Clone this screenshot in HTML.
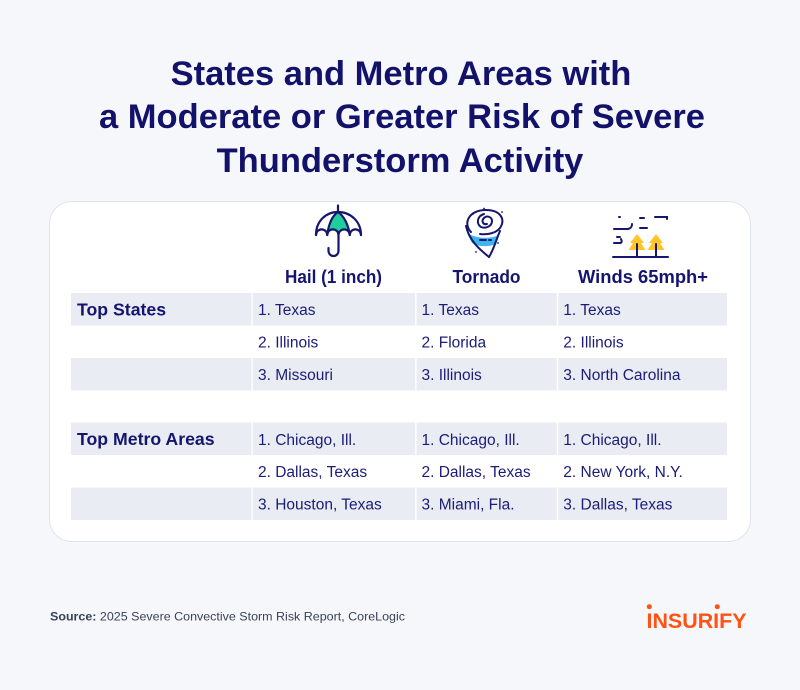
<!DOCTYPE html>
<html>
<head>
<meta charset="utf-8">
<style>
  html,body{margin:0;padding:0;background:#f6f7fb;}
  body{width:800px;height:690px;overflow:hidden;}
  svg{display:block;}
  text{font-family:"Liberation Sans",Arial,sans-serif;}
</style>
</head>
<body>
<svg width="800" height="690" viewBox="0 0 800 690" xmlns="http://www.w3.org/2000/svg">
  <rect x="0" y="0" width="800" height="690" fill="#f6f7fb"/>

  <!-- Title -->
  <g fill="#12126b" font-weight="bold" font-size="34.5" text-anchor="middle">
    <text x="401" y="85">States and Metro Areas with</text>
    <text x="402" y="128">a Moderate or Greater Risk of Severe</text>
    <text x="400" y="172">Thunderstorm Activity</text>
  </g>

  <!-- Card -->
  <rect x="49.5" y="201.5" width="701" height="340" rx="22" ry="22" fill="#ffffff" stroke="#dfe4ee" stroke-width="1"/>

  <!-- Gray rows -->
  <g fill="#e9ecf2">
    <rect x="71" y="293" width="180.5" height="32.5"/>
    <rect x="252.8" y="293" width="162.4" height="32.5"/>
    <rect x="416.6" y="293" width="140.2" height="32.5"/>
    <rect x="558.2" y="293" width="168.8" height="32.5"/>

    <rect x="71" y="358" width="180.5" height="32.5"/>
    <rect x="252.8" y="358" width="162.4" height="32.5"/>
    <rect x="416.6" y="358" width="140.2" height="32.5"/>
    <rect x="558.2" y="358" width="168.8" height="32.5"/>

    <rect x="71" y="422.5" width="180.5" height="32.5"/>
    <rect x="252.8" y="422.5" width="162.4" height="32.5"/>
    <rect x="416.6" y="422.5" width="140.2" height="32.5"/>
    <rect x="558.2" y="422.5" width="168.8" height="32.5"/>

    <rect x="71" y="487.5" width="180.5" height="32.5"/>
    <rect x="252.8" y="487.5" width="162.4" height="32.5"/>
    <rect x="416.6" y="487.5" width="140.2" height="32.5"/>
    <rect x="558.2" y="487.5" width="168.8" height="32.5"/>
  </g>

  <!-- Header labels -->
  <g fill="#15156f" font-weight="bold" font-size="18" text-anchor="middle">
    <text x="333.5" y="283" textLength="97" lengthAdjust="spacingAndGlyphs">Hail (1 inch)</text>
    <text x="486.5" y="283" textLength="68" lengthAdjust="spacingAndGlyphs">Tornado</text>
    <text x="643" y="283" textLength="130" lengthAdjust="spacingAndGlyphs">Winds 65mph+</text>
  </g>

  <!-- Row labels -->
  <g fill="#15156f" font-weight="bold" font-size="17.7">
    <text x="77" y="315.5">Top States</text>
    <text x="77" y="445">Top Metro Areas</text>
  </g>

  <!-- Body text -->
  <g fill="#1b1b78" font-size="15.5">
    <text x="258" y="315">1. Texas</text>
    <text x="258" y="347.5">2. Illinois</text>
    <text x="258" y="380">3. Missouri</text>
    <text x="421.5" y="315">1. Texas</text>
    <text x="421.5" y="347.5">2. Florida</text>
    <text x="421.5" y="380">3. Illinois</text>
    <text x="563.3" y="315">1. Texas</text>
    <text x="563.3" y="347.5">2. Illinois</text>
    <text x="563.3" y="380">3. North Carolina</text>

    <text x="258" y="445">1. Chicago, Ill.</text>
    <text x="258" y="477">2. Dallas, Texas</text>
    <text x="258" y="509.5">3. Houston, Texas</text>
    <text x="421.5" y="445">1. Chicago, Ill.</text>
    <text x="421.5" y="477">2. Dallas, Texas</text>
    <text x="421.5" y="509.5">3. Miami, Fla.</text>
    <text x="563.3" y="445">1. Chicago, Ill.</text>
    <text x="563.3" y="477">2. New York, N.Y.</text>
    <text x="563.3" y="509.5">3. Dallas, Texas</text>
  </g>

  <!-- Umbrella icon -->
  <g fill="none" stroke="#16166e" stroke-width="2.2" stroke-linecap="round" stroke-linejoin="round">
    <path d="M338,212 C332,216 328.5,225 327.3,234 A5.6,5.6 0 0 1 338.5,234 A5.6,5.6 0 0 1 349.7,234 C348.5,225 344,216 338,212 Z" fill="#1fce9b" stroke="none"/>
    <line x1="338" y1="205.5" x2="338" y2="212"/>
    <path d="M316,235 C316,221 326,212 338,212 C350,212 361,221 361,235"/>
    <path d="M316,235 A5.6,5.6 0 0 1 327.25,235 A5.6,5.6 0 0 1 338.5,235 A5.6,5.6 0 0 1 349.75,235 A5.6,5.6 0 0 1 361,235"/>
    <path d="M338,212 C332,216 328.5,225 327.25,235"/>
    <path d="M338,212 C344,216 348.5,225 349.75,235"/>
    <path d="M338.5,235 L338.5,251 A5,5 0 0 1 328.5,251 L328.5,248"/>
  </g>

  <!-- Tornado icon -->
  <g>
    <path d="M467,233 C477,239 490,239 499,235 L496,244 C489,247 479,247 472,243 Z" fill="#3db5f1"/>
    <g fill="none" stroke="#16166e" stroke-width="2" stroke-linecap="round" stroke-linejoin="round">
      <path d="M471,232 C463,224 468,210 486,210 C500,210 506,219 500,228 C496,233 488,235 480,234"/>
      <path d="M487,224 C483,225 481,221 484,218 C487,215 492,217 492,221 C492,226 486,229 481,227 C476,224 477,216 484,214"/>
      <path d="M466,226 C469,240 479,249 489,257"/>
      <path d="M500,231 C496,240 494,249 489,257"/>
      <line x1="480" y1="240" x2="486" y2="240"/>
      <line x1="489" y1="240" x2="491" y2="240"/>
    </g>
    <g fill="#16166e">
      <circle cx="484" cy="208.5" r="0.9"/>
      <circle cx="473" cy="214" r="0.9"/>
      <circle cx="502" cy="212" r="0.9"/>
      <circle cx="498" cy="243" r="0.9"/>
      <circle cx="476" cy="252" r="0.9"/>
    </g>
  </g>

  <!-- Wind icon -->
  <g>
    <path d="M637,234 L630,243 L633,243 L628.5,250 L645.5,250 L641,243 L644,243 Z" fill="#ffc52b"/>
    <path d="M656,234 L649,243 L652,243 L647.5,250 L664.5,250 L660,243 L663,243 Z" fill="#ffc52b"/>
    <g fill="none" stroke="#16166e" stroke-width="2" stroke-linecap="round">
      <line x1="613" y1="257" x2="668" y2="257"/>
      <line x1="637" y1="244" x2="637" y2="257"/>
      <line x1="656" y1="244" x2="656" y2="257"/>
      <line x1="619" y1="217" x2="620" y2="217"/>
      <line x1="640" y1="218" x2="644" y2="218"/>
      <path d="M655,217 L667,217 L667,219"/>
      <path d="M614,229 L627,229 C630,229 632,227 632,224"/>
      <line x1="640" y1="228" x2="647" y2="228"/>
      <line x1="617" y1="237" x2="620" y2="237"/>
      <path d="M614,243 L620,243 C622,243 622,241 621,239"/>
    </g>
  </g>

  <!-- Source -->
  <text x="50" y="620.5" font-size="12" fill="#3a4257" textLength="355" lengthAdjust="spacingAndGlyphs"><tspan font-weight="bold">Source:</tspan> 2025 Severe Convective Storm Risk Report, CoreLogic</text>

  <!-- Logo -->
  <text x="646.5" y="628" font-size="21" font-weight="bold" fill="#ff5214" textLength="100" lengthAdjust="spacingAndGlyphs">INSURIFY</text>
  <circle cx="649.3" cy="606.7" r="2.5" fill="#ff5214"/>
  <circle cx="717.3" cy="606.7" r="2.5" fill="#ff5214"/>
</svg>
</body>
</html>
